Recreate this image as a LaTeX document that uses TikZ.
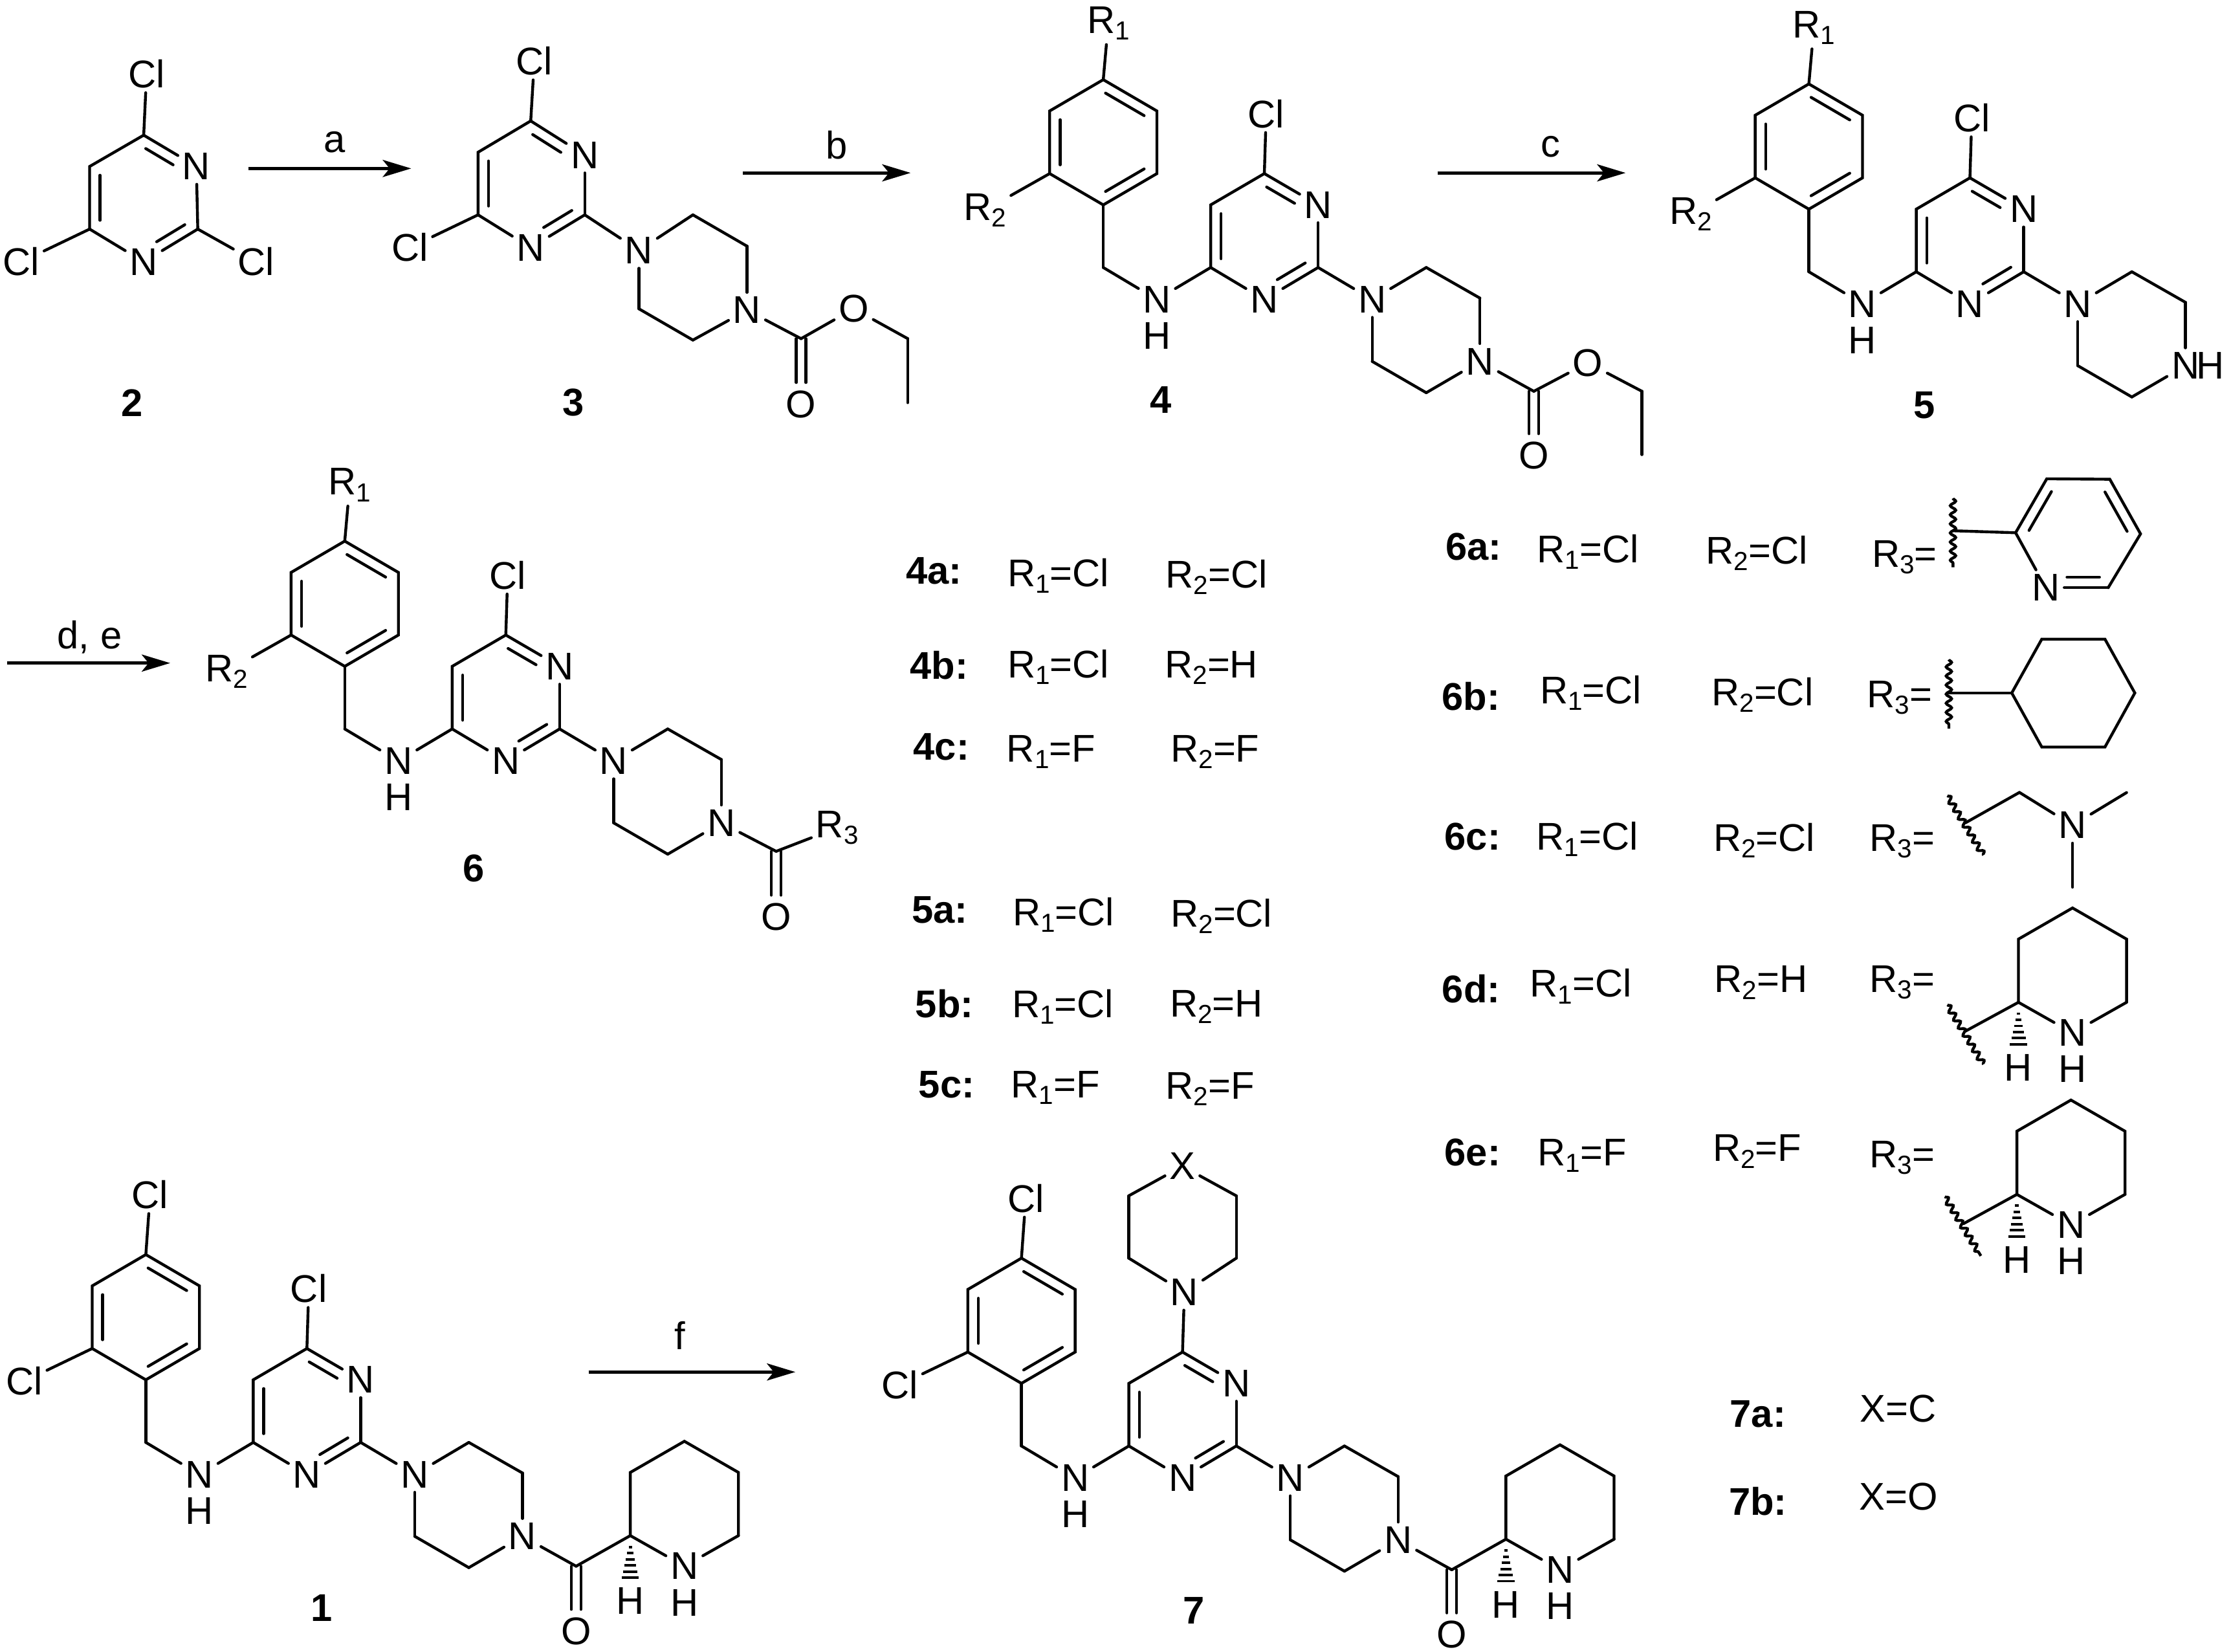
\documentclass[tikz,border=0pt]{standalone}
\usepackage{fontspec}
\setmainfont{Liberation Sans}
\usetikzlibrary{arrows.meta,calc,decorations.pathmorphing}

\tikzset{
  bond/.style={line width=1.25pt,line cap=round},
  wavy/.style={line width=1.25pt,decorate,decoration={snake,amplitude=1.2pt,segment length=4pt}},
  hashline/.style={line width=1.1pt},
  rxn/.style={line width=1.4pt,-{Stealth[length=12.5pt,width=7.5pt,inset=3pt]}},
  atom/.style={inner sep=2pt,outer sep=0pt,font=\fontsize{17}{19}\selectfont},
  lab/.style={inner sep=0pt,font=\fontsize{17}{19}\selectfont},
  tag/.style={inner sep=0pt,font=\fontsize{17}{19}\selectfont\bfseries},
}

\newcommand{\rsub}[1]{\raisebox{-2.9pt}{\fontsize{11.5}{12}\selectfont #1}}
\newcommand{\rone}{R\rsub{1}}
\newcommand{\rtwo}{R\rsub{2}}
\newcommand{\rthree}{R\rsub{3}}
% inner line of a ring double bond, walking the ring clockwise
\newcommand{\inbond}[3][.86]{\draw[bond] ($(#2)!.14!(#3)!4.6pt!-90:(#3)$) -- ($(#2)!#1!(#3)!4.6pt!-90:(#3)$);}
% C=O
\newcommand{\twobond}[2]{
  \draw[bond,shorten >=9.5pt] ($(#1)!2.1pt!90:(#2)$) -- ($(#2)!2.1pt!-90:(#1)$);
  \draw[bond,shorten >=9.5pt] ($(#1)!2.1pt!-90:(#2)$) -- ($(#2)!2.1pt!90:(#1)$);
}
\newcommand{\hashbond}[1]{
  \foreach \i in {0,...,5} \draw[hashline] (#1) ++({-1.2-.95*\i},{8+4.3*\i}) -- ++({2.4+1.9*\i},0);
}

% benzyl, NH, pyrimidine and piperazine, origin at the top of the benzene ring
\newcommand{\corefrag}[1]{
  \coordinate (ar1) at (0,0);
  \coordinate (ar2) at (37.7,22);
  \coordinate (ar3) at (37.7,66);
  \coordinate (ar4) at (0,88);
  \coordinate (ar5) at (-37.7,66);
  \coordinate (ar6) at (-37.7,22);
  \coordinate (ch2) at (0,132);
  \node (nh) at (37.7,154.5) [atom] {N};
  \node (nhh) at (37.7,180) [atom] {H};
  \coordinate (py6) at (113.2,66);
  \node (py1) at (151,88) [atom] {N};
  \coordinate (py2) at (151,132);
  \node (py3) at (113.2,154.5) [atom] {N};
  \coordinate (py4) at (75.5,132);
  \coordinate (py5) at (75.5,88);
  \node (ptop) at (114.5,24) [atom] {#1};
  \node (pn1) at (189,154.5) [atom] {N};
  \coordinate (pc2) at (227,132);
  \coordinate (pc3) at (264.7,153.5);
  \node (pn4) at (264.7,198) [atom] {N};
  \coordinate (pc5) at (227,220);
  \coordinate (pc6) at (189,198);
  \draw[bond] (ar1) -- (ar2) -- (ar3) -- (ar4) -- (ar5) -- (ar6) -- cycle;
  \inbond{ar1}{ar2} \inbond{ar3}{ar4} \inbond{ar5}{ar6}
  \draw[bond] (ar4) -- (ch2);
  \draw[bond] (ch2) -- (nh);
  \draw[bond] (nh) -- (py4);
  \draw[bond] (py6) -- (py1);
  \draw[bond] (py1) -- (py2);
  \draw[bond] (py2) -- (py3);
  \draw[bond] (py3) -- (py4);
  \draw[bond] (py4) -- (py5) -- (py6);
  \inbond[.66]{py6}{py1} \inbond[.66]{py2}{py3} \inbond{py4}{py5}
  \draw[bond] (py6) -- (ptop);
  \draw[bond] (py2) -- (pn1);
  \draw[bond] (pn1) -- (pc2);
  \draw[bond] (pc2) -- (pc3);
  \draw[bond] (pc3) -- (pn4);
  \draw[bond] (pn4) -- (pc5);
  \draw[bond] (pc5) -- (pc6);
  \draw[bond] (pc6) -- (pn1);
}
\newcommand{\rgroups}{
  \node (sub1) at (3.5,-39.5) [atom] {\rone};
  \node (sub2) at (-83,91.6) [atom] {\rtwo};
  \draw[bond] (ar1) -- (sub1);
  \draw[bond] (ar5) -- (sub2);
}
\newcommand{\clgroups}{
  \node (sub1) at (3,-42) [atom] {Cl};
  \node (sub2) at (-85.5,89) [atom] {Cl};
  \draw[bond] (ar1) -- (sub1);
  \draw[bond] (ar5) -- (sub2);
}
% piperidine, origin at the ring carbon with the H
\newcommand{\pipfrag}{
  \coordinate (c2) at (0,0);
  \coordinate (c3) at (0,-44.4);
  \coordinate (c4) at (38,-66.3);
  \coordinate (c5) at (76,-44.4);
  \coordinate (c6) at (76,0);
  \node (n1) at (38,21.5) [atom] {N};
  \node (n1h) at (38,47) [atom] {H};
  \node (c2h) at (0,46) [atom] {H};
  \draw[bond] (c2) -- (c3) -- (c4) -- (c5) -- (c6);
  \draw[bond] (c6) -- (n1);
  \draw[bond] (n1) -- (c2);
  \hashbond{c2}
}
% carbonyl and piperidine on the piperazine N
\newcommand{\amidefrag}{
  \coordinate (co) at (302.4,219);
  \node (oxo) at (302.4,264.5) [atom] {O};
  \draw[bond] (pn4) -- (co);
  \twobond{co}{oxo}
  \begin{scope}[shift={(340.5,197.5)}]
    \pipfrag
  \end{scope}
  \draw[bond] (co) -- (c2);
}
% ethyl carbamate on the piperazine N
\newcommand{\esterfrag}{
  \coordinate (co) at (302.6,219);
  \node (oxo) at (302.6,264) [atom] {O};
  \node (oet) at (340.5,199) [atom] {O};
  \coordinate (et1) at (378.6,219);
  \coordinate (et2) at (378.6,263.5);
  \draw[bond] (pn4) -- (co);
  \twobond{co}{oxo}
  \draw[bond] (co) -- (oet);
  \draw[bond] (oet) -- (et1);
  \draw[bond] (et1) -- (et2);
}

\begin{document}
\begin{tikzpicture}[x=.022cm,y=-.022cm]
\useasboundingbox (0,0) rectangle (1568,1161);

% compound 2
\coordinate (a4) at (101,95);
\node (an3) at (138,117) [atom] {N};
\coordinate (a2) at (139,161);
\node (an1) at (101,184) [atom] {N};
\coordinate (a6) at (63,161);
\coordinate (a5) at (63,117);
\node (acl4) at (103,52) [atom] {Cl};
\node (acl6) at (15,184) [atom] {Cl};
\node (acl2) at (180,184) [atom] {Cl};
\draw[bond] (a4) -- (an3);
\draw[bond] (an3) -- (a2);
\draw[bond] (a2) -- (an1);
\draw[bond] (an1) -- (a6);
\draw[bond] (a6) -- (a5) -- (a4);
\inbond[.66]{a4}{an3} \inbond[.66]{a2}{an1} \inbond{a6}{a5}
\draw[bond] (a4) -- (acl4);
\draw[bond] (a6) -- (acl6);
\draw[bond] (a2) -- (acl2);
\node (lab2) at (93,283) [tag] {2};

% compound 3
\coordinate (b4) at (373,85);
\node (bn3) at (411,109) [atom] {N};
\coordinate (b2) at (411,151);
\node (bn1) at (373,174) [atom] {N};
\coordinate (b6) at (336,151);
\coordinate (b5) at (336,107);
\node (bcl4) at (375.5,43) [atom] {Cl};
\node (bcl6) at (288,174) [atom] {Cl};
\node (bpn1) at (449,176) [atom] {N};
\coordinate (bp2) at (487,151);
\coordinate (bp3) at (525,173);
\node (bpn4) at (525,218) [atom] {N};
\coordinate (bp5) at (487,239);
\coordinate (bp6) at (449,217);
\coordinate (bco) at (563,238);
\node (boxo) at (563,284) [atom] {O};
\node (boet) at (600,217) [atom] {O};
\coordinate (bet1) at (638,238);
\coordinate (bet2) at (638,283);
\draw[bond] (b4) -- (bn3);
\draw[bond] (bn3) -- (b2);
\draw[bond] (b2) -- (bn1);
\draw[bond] (bn1) -- (b6);
\draw[bond] (b6) -- (b5) -- (b4);
\inbond[.66]{b4}{bn3} \inbond[.66]{b2}{bn1} \inbond{b6}{b5}
\draw[bond] (b4) -- (bcl4);
\draw[bond] (b6) -- (bcl6);
\draw[bond] (b2) -- (bpn1);
\draw[bond] (bpn1) -- (bp2);
\draw[bond] (bp2) -- (bp3);
\draw[bond] (bp3) -- (bpn4);
\draw[bond] (bpn4) -- (bp5);
\draw[bond] (bp5) -- (bp6);
\draw[bond] (bp6) -- (bpn1);
\draw[bond] (bpn4) -- (bco);
\twobond{bco}{boxo}
\draw[bond] (bco) -- (boet);
\draw[bond] (boet) -- (bet1);
\draw[bond] (bet1) -- (bet2);
\node (lab3) at (403,283) [tag] {3};

% compound 4
\begin{scope}[name prefix=mfour-,shift={(775.4,56)}]
  \corefrag{Cl} \rgroups \esterfrag
  \node (lab) at (40.6,225) [tag] {4};
\end{scope}

% compound 5
\begin{scope}[name prefix=mfive-,shift={(1271.3,59)}]
  \corefrag{Cl} \rgroups
  \node (pnh) at (282,198) [atom] {H};
  \node (lab) at (81.2,226) [tag] {5};
\end{scope}

% compound 6
\begin{scope}[name prefix=msix-,shift={(242.3,380.3)}]
  \corefrag{Cl} \rgroups
  \coordinate (co) at (303.2,218);
  \node (oxo) at (303.2,264) [atom] {O};
  \node (rthree) at (346,201.5) [atom] {\rthree};
  \draw[bond] (pn4) -- (co);
  \twobond{co}{oxo}
  \draw[bond] (co) -- (rthree);
  \node (lab) at (90.7,230) [tag] {6};
\end{scope}

% compound 1
\begin{scope}[name prefix=mone-,shift={(102.5,881.7)}]
  \corefrag{Cl} \clgroups \amidefrag
  \node (lab) at (123.5,248.3) [tag] {1};
\end{scope}

% compound 7
\begin{scope}[name prefix=mseven-,shift={(717.9,884.2)}]
  \corefrag{N} \clgroups \amidefrag
  \coordinate (mo2) at (151,0);
  \coordinate (mo3) at (151,-43.8);
  \node (mox) at (113.1,-64.6) [atom] {X};
  \coordinate (mo5) at (75.4,-43.8);
  \coordinate (mo6) at (75.4,0);
  \draw[bond] (ptop) -- (mo2);
  \draw[bond] (mo2) -- (mo3);
  \draw[bond] (mo3) -- (mox);
  \draw[bond] (mox) -- (mo5);
  \draw[bond] (mo5) -- (mo6);
  \draw[bond] (mo6) -- (ptop);
  \node (lab) at (121.1,247.8) [tag] {7};
\end{scope}

% reaction arrows
\coordinate (ara) at (174.5,118.4);
\coordinate (arb) at (289,118.4);
\draw[rxn] (ara) -- (arb);
\node (la) at (235,100) [lab] {a};
\coordinate (brb) at (522,121.5);
\coordinate (brc) at (640,121.5);
\draw[rxn] (brb) -- (brc);
\node (lb) at (588,102) [lab] {b};
\coordinate (crc) at (1010.3,121.5);
\coordinate (crd) at (1142.5,121.5);
\draw[rxn] (crc) -- (crd);
\node (lc) at (1090,103) [lab] {c};
\coordinate (dre) at (5,466);
\coordinate (drf) at (119.6,466);
\draw[rxn] (dre) -- (drf);
\node (ld) at (63,447.6) [lab] {d, e};
\coordinate (frf) at (413.6,964.2);
\coordinate (frg) at (559,964.2);
\draw[rxn] (frf) -- (frg);
\node (lf) at (478,938.4) [lab] {f};

% table of 4 and 5
\node (t4a) at (656.5,401.4) [tag] {4a:};
\node (t4ar) at (743.8,404.8) [lab] {\rone=Cl};
\node (t4as) at (855,405.6) [lab] {\rtwo=Cl};
\node (t4b) at (660,467.4) [tag] {4b:};
\node (t4br) at (743.8,468.8) [lab] {\rone=Cl};
\node (t4bs) at (851.4,469.3) [lab] {\rtwo=H};
\node (t4c) at (661.6,524.9) [tag] {4c:};
\node (t4cr) at (738.7,528.3) [lab] {\rone=F};
\node (t4cs) at (854,528.3) [lab] {\rtwo=F};
\node (t5a) at (660.6,639.7) [tag] {5a:};
\node (t5ar) at (747.5,643) [lab] {\rone=Cl};
\node (t5as) at (858.5,644) [lab] {\rtwo=Cl};
\node (t5b) at (663.8,705.5) [tag] {5b:};
\node (t5br) at (746.9,707.6) [lab] {\rone=Cl};
\node (t5bs) at (855,707.6) [lab] {\rtwo=H};
\node (t5c) at (665.3,762.4) [tag] {5c:};
\node (t5cr) at (741.8,764.5) [lab] {\rone=F};
\node (t5cs) at (850.4,765.5) [lab] {\rtwo=F};

% table of 6
\node (t6a) at (1035.6,384.3) [tag] {6a:};
\node (t6ar) at (1116,387.8) [lab] {\rone=Cl};
\node (t6as) at (1234.7,388.6) [lab] {\rtwo=Cl};
\node (t6at) at (1338.5,391.8) [lab] {\rthree=};
\coordinate (waA) at (1372.6,350.2);
\coordinate (waB) at (1372.6,398.7);
\coordinate (waC) at (1372.6,373);
\draw[wavy] (waA) -- (waB);
\coordinate (yc2) at (1416.6,374.4);
\coordinate (yc3) at (1438.5,336.5);
\coordinate (yc4) at (1482.8,336.8);
\coordinate (yc5) at (1504.4,375.2);
\coordinate (yc6) at (1481.7,413);
\node (yn) at (1437.8,413) [atom] {N};
\draw[bond] (waC) -- (yc2);
\draw[bond] (yc2) -- (yc3) -- (yc4) -- (yc5) -- (yc6);
\draw[bond] (yc6) -- (yn);
\draw[bond] (yn) -- (yc2);
\inbond{yc2}{yc3} \inbond{yc4}{yc5} \inbond[.66]{yc6}{yn}

\node (t6b) at (1033.8,489.6) [tag] {6b:};
\node (t6br) at (1118,487) [lab] {\rone=Cl};
\node (t6bs) at (1238.7,488.3) [lab] {\rtwo=Cl};
\node (t6bt) at (1335,490.4) [lab] {\rthree=};
\coordinate (wbA) at (1369.7,463.5);
\coordinate (wbB) at (1369.7,512);
\coordinate (wbC) at (1369.7,487);
\draw[wavy] (wbA) -- (wbB);
\coordinate (hx1) at (1413.9,487);
\coordinate (hx2) at (1435,449.2);
\coordinate (hx3) at (1479.4,449.2);
\coordinate (hx4) at (1500.4,487);
\coordinate (hx5) at (1479.4,525);
\coordinate (hx6) at (1435,525);
\draw[bond] (wbC) -- (hx1);
\draw[bond] (hx1) -- (hx2) -- (hx3) -- (hx4) -- (hx5) -- (hx6) -- cycle;

\node (t6c) at (1034.9,587.9) [tag] {6c:};
\node (t6cr) at (1115.6,589.6) [lab] {\rone=Cl};
\node (t6cs) at (1240,590.5) [lab] {\rtwo=Cl};
\node (t6ct) at (1337,591.3) [lab] {\rthree=};
\coordinate (wcA) at (1368.6,559.2);
\coordinate (wcB) at (1394,601);
\coordinate (wcC) at (1381.3,578.3);
\draw[wavy] (wcA) -- (wcB);
\coordinate (dm1) at (1419.3,556.9);
\node (dmn) at (1456.6,580) [atom] {N};
\coordinate (dm2) at (1494.6,557);
\coordinate (dm3) at (1456.6,623.5);
\draw[bond] (wcC) -- (dm1);
\draw[bond] (dm1) -- (dmn);
\draw[bond] (dmn) -- (dm2);
\draw[bond] (dmn) -- (dm3);

\node (t6d) at (1034,695) [tag] {6d:};
\node (t6dr) at (1111,693.2) [lab] {\rone=Cl};
\node (t6ds) at (1237.6,690.5) [lab] {\rtwo=H};
\node (t6dt) at (1337,690.5) [lab] {\rthree=};
\coordinate (wdA) at (1368.6,706.2);
\coordinate (wdB) at (1394,748);
\coordinate (wdC) at (1381.3,724.7);
\draw[wavy] (wdA) -- (wdB);
\begin{scope}[name prefix=pd-,shift={(1418.6,704.4)}]
  \pipfrag
\end{scope}
\draw[bond] (wdC) -- (pd-c2);

\node (t6e) at (1034.9,810) [tag] {6e:};
\node (t6er) at (1112,812.3) [lab] {\rone=F};
\node (t6es) at (1235,809.2) [lab] {\rtwo=F};
\node (t6et) at (1337,813.7) [lab] {\rthree=};
\coordinate (weA) at (1366.8,841);
\coordinate (weB) at (1392.2,882.6);
\coordinate (weC) at (1379.9,860);
\draw[wavy] (weA) -- (weB);
\begin{scope}[name prefix=pe-,shift={(1417.5,839.4)}]
  \pipfrag
\end{scope}
\draw[bond] (weC) -- (pe-c2);

% table of 7
\node (t7a) at (1235.5,993.6) [tag] {7a:};
\node (t7ax) at (1334,990) [lab] {X=C};
\node (t7b) at (1235.6,1055) [tag] {7b:};
\node (t7bx) at (1334.4,1051.6) [lab] {X=O};
\end{tikzpicture}
\end{document}
